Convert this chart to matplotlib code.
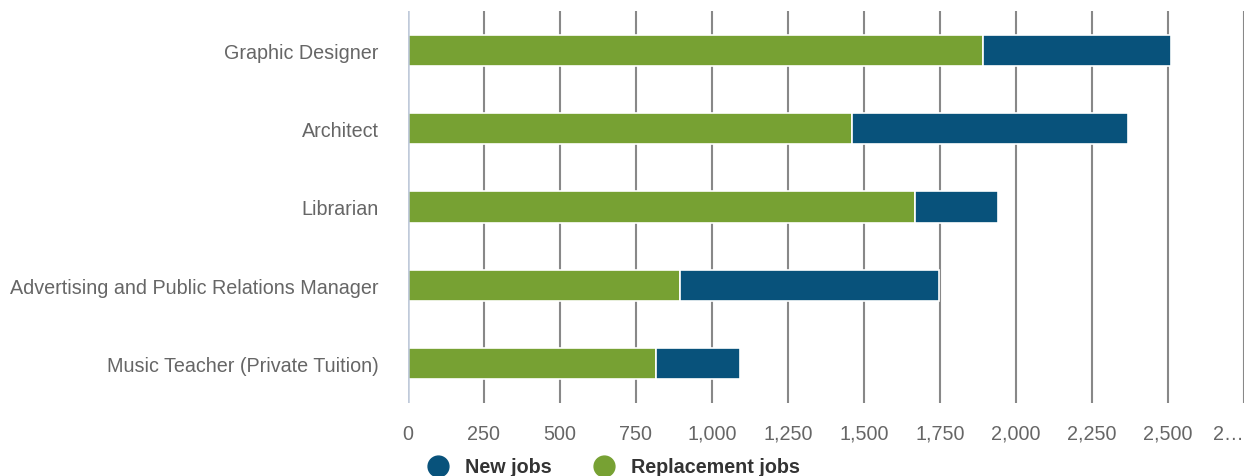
import matplotlib.pyplot as plt
from matplotlib.lines import Line2D

# Job openings by occupation
occupations = ['Graphic Designer', 'Architect', 'Librarian',
               'Advertising and Public Relations Manager',
               'Music Teacher (Private Tuition)']
replacement_jobs = [1891, 1459, 1667, 896, 817]
new_jobs = [620, 908, 275, 851, 276]
x_ticks = [0, 250, 500, 750, 1000, 1250, 1500, 1750, 2000, 2250, 2500, 2750]
x_tick_labels = ['0', '250', '500', '750', '1,000', '1,250', '1,500',
                 '1,750', '2,000', '2,250', '2,500', '2\u2026']

green = '#77a133'
blue = '#08527b'
grey_text = '#666666'

plt.rcParams['font.family'] = ['Liberation Sans', 'DejaVu Sans']

fig = plt.figure(figsize=(12.45, 4.77), dpi=100)
ax = fig.add_axes([408 / 1245, 73 / 477, 836 / 1245, 392 / 477])

y = list(range(len(occupations)))
ax.barh(y, replacement_jobs, height=0.4, color=green, edgecolor='white',
        linewidth=1.2, zorder=3)
ax.barh(y, new_jobs, left=replacement_jobs, height=0.4, color=blue,
        edgecolor='white', linewidth=1.2, zorder=3)

ax.set_xlim(0, 2750)
ax.set_ylim(len(occupations) - 0.5, -0.5)

# vertical grid lines, the zero line drawn lighter
for t in x_ticks[1:]:
    ax.axvline(t, color='#888888', lw=1.5, zorder=1)
ax.axvline(0, color='#c0cada', lw=1.8, zorder=4)

ax.set_xticks(x_ticks)
ax.set_xticklabels(x_tick_labels)
ax.set_yticks(y)
ax.set_yticklabels(occupations)
ax.tick_params(axis='x', length=0, pad=15, labelsize=14.2, labelcolor=grey_text)
ax.tick_params(axis='y', length=0, pad=21, labelsize=14.2, labelcolor=grey_text)
# the last label is shortened and kept inside the figure
ax.get_xticklabels()[-1].set_horizontalalignment('right')
for s in ax.spines.values():
    s.set_visible(False)

handles = [
    Line2D([], [], marker='o', ls='none', markersize=15, color=blue),
    Line2D([], [], marker='o', ls='none', markersize=15, color=green),
]
fig.legend(handles, ['New jobs', 'Replacement jobs'], loc='center',
           bbox_to_anchor=(614 / 1245, 9 / 477), ncol=2, frameon=False,
           prop={'weight': 'bold', 'size': 14.2}, labelcolor='#333333',
           handletextpad=0.85, columnspacing=2.2, handlelength=1.0)

fig.savefig('out.png', dpi=100)
